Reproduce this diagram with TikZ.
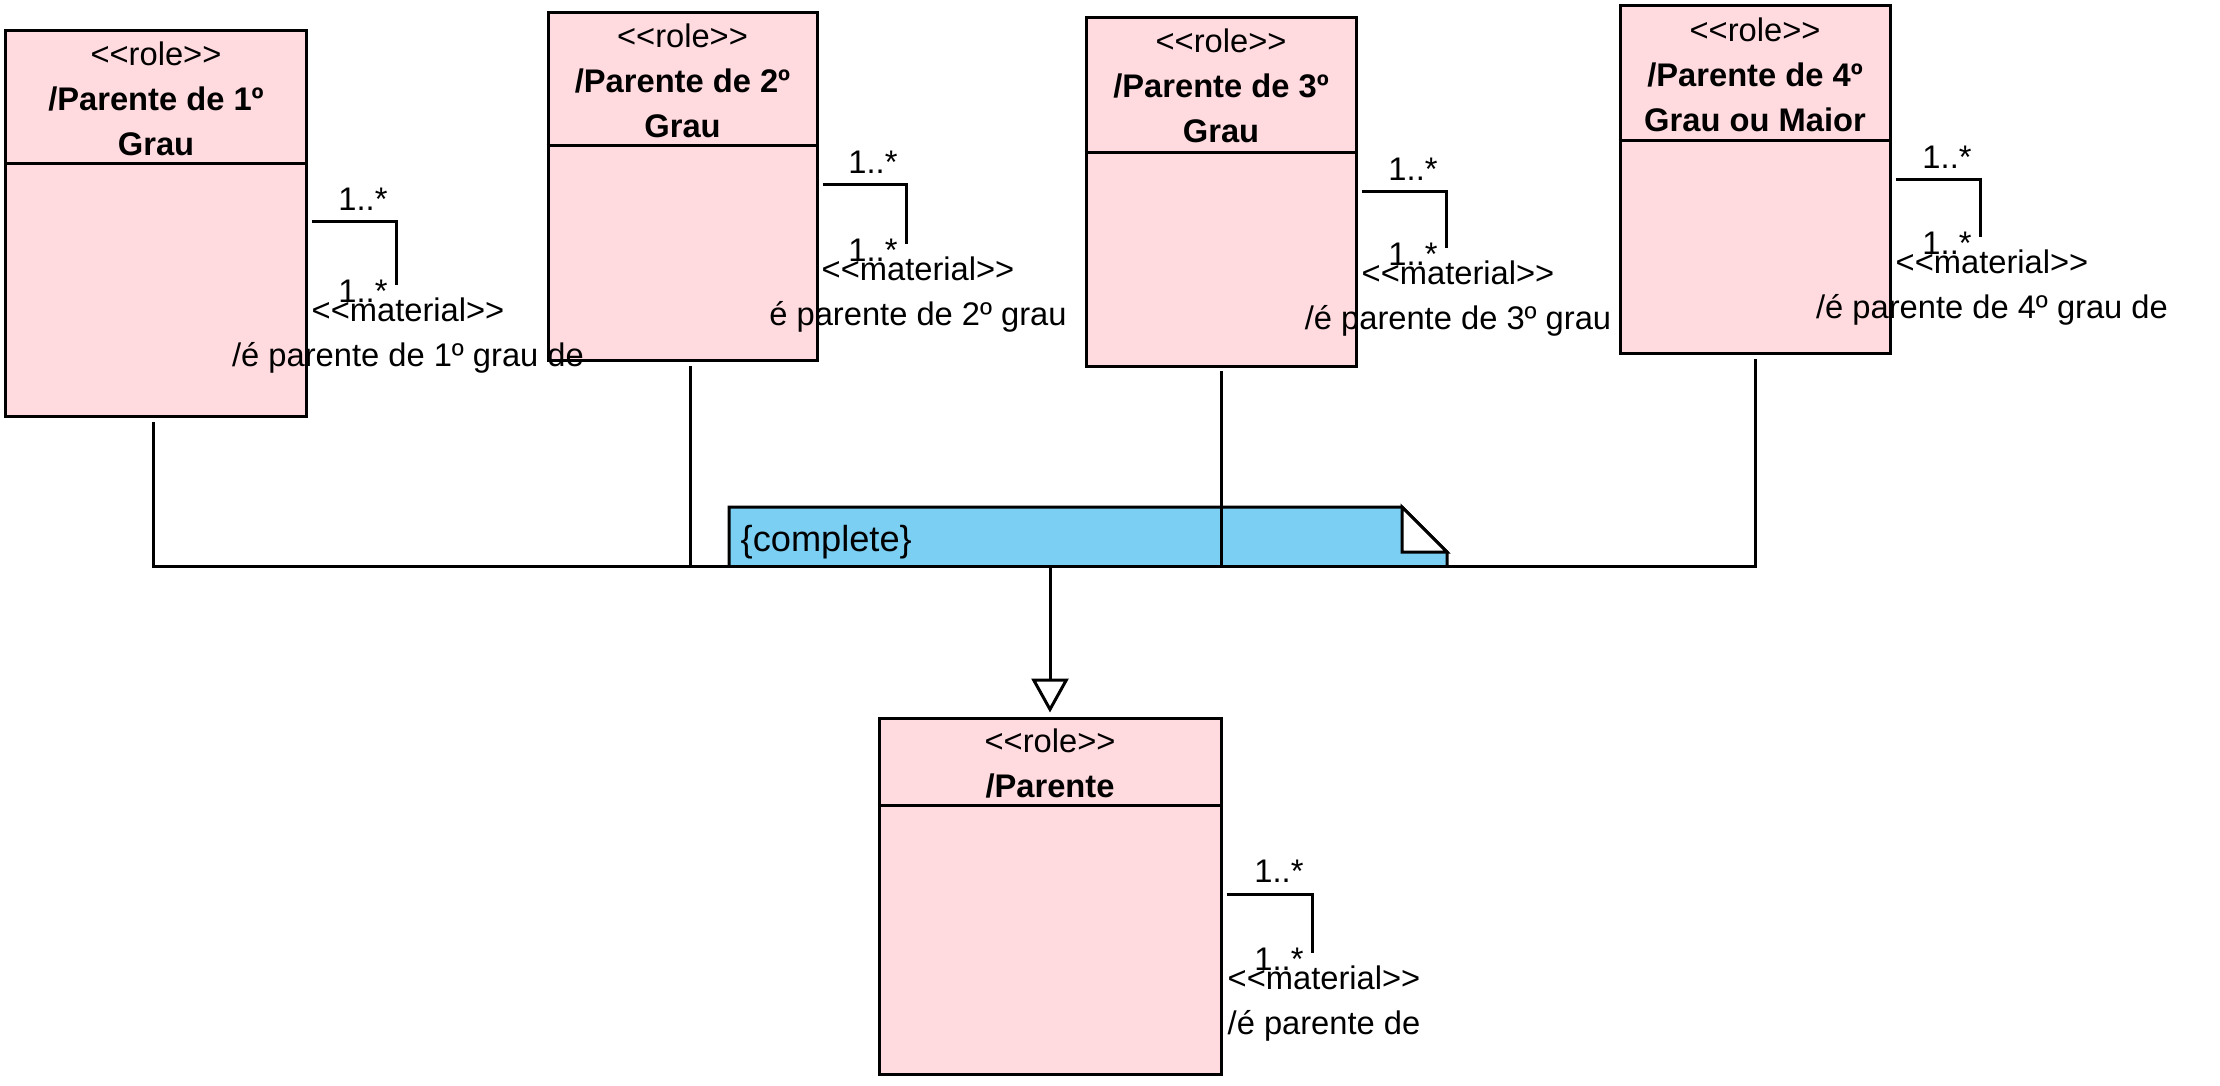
\documentclass[tikz,border=0pt]{standalone}
\usepackage{fontspec}
\setmainfont{Liberation Sans}[Ligatures=TeXOff]
\usetikzlibrary{arrows.meta}
\definecolor{rolefill}{RGB}{255,218,223}
\definecolor{notefill}{RGB}{122,207,243}
\tikzset{
  rolebox/.style={draw, fill=rolefill, line width=0.03cm, inner sep=0},
  hdr/.style={align=center, inner sep=0, font=\fontsize{9.3}{12.8}\selectfont},
  lbl/.style={inner sep=0, font=\fontsize{9.3}{11}\selectfont},
  assoc/.style={line width=0.03cm, shorten <=0.04cm},
  bus/.style={line width=0.03cm},
}
\begin{document}
\begin{tikzpicture}[x=1cm,y=-1cm]
\useasboundingbox (0,0) rectangle (22.20,10.86);

% nota {complete}
\fill[notefill] (7.29,5.07) -- (14.02,5.07) -- (14.47,5.52) -- (14.47,5.65) -- (7.29,5.65) -- cycle;
\draw[line width=0.03cm] (7.29,5.65) -- (7.29,5.07) -- (14.02,5.07) -- (14.47,5.52) -- (14.47,5.65);
\draw[line width=0.03cm, fill=white] (14.02,5.07) -- (14.02,5.52) -- (14.47,5.52) -- cycle;
\node[inner sep=0, anchor=west, font=\fontsize{10.3}{12}\selectfont] (cmpl) at (7.40,5.42) {\{complete\}};

% papeis
\node[rolebox, minimum width=3.00cm, minimum height=3.86cm] (g1) at (1.56,2.24) {};
\draw[line width=0.03cm] ([yshift=-1.34cm]g1.north west) -- ([yshift=-1.34cm]g1.north east);
\node[hdr] (g1t) at ([yshift=-0.69cm]g1.north) {<<role>>\\\textbf{/Parente de 1º}\\\textbf{Grau}};

\node[rolebox, minimum width=2.69cm, minimum height=3.48cm] (g2) at (6.825,1.87) {};
\draw[line width=0.03cm] ([yshift=-1.34cm]g2.north west) -- ([yshift=-1.34cm]g2.north east);
\node[hdr] (g2t) at ([yshift=-0.69cm]g2.north) {<<role>>\\\textbf{/Parente de 2º}\\\textbf{Grau}};

\node[rolebox, minimum width=2.70cm, minimum height=3.49cm] (g3) at (12.21,1.925) {};
\draw[line width=0.03cm] ([yshift=-1.36cm]g3.north west) -- ([yshift=-1.36cm]g3.north east);
\node[hdr] (g3t) at ([yshift=-0.69cm]g3.north) {<<role>>\\\textbf{/Parente de 3º}\\\textbf{Grau}};

\node[rolebox, minimum width=2.70cm, minimum height=3.48cm] (g4) at (17.55,1.80) {};
\draw[line width=0.03cm] ([yshift=-1.36cm]g4.north west) -- ([yshift=-1.36cm]g4.north east);
\node[hdr] (g4t) at ([yshift=-0.70cm]g4.north) {<<role>>\\\textbf{/Parente de 4º}\\\textbf{Grau ou Maior}};

\node[rolebox, minimum width=3.42cm, minimum height=3.56cm] (par) at (10.50,8.96) {};
\draw[line width=0.03cm] ([yshift=-0.89cm]par.north west) -- ([yshift=-0.89cm]par.north east);
\node[hdr] (part) at ([yshift=-0.47cm]par.north) {<<role>>\\\textbf{/Parente}};

% generalizacao
\coordinate (j1) at (1.53,5.66);
\coordinate (j2) at (6.90,5.66);
\coordinate (j4) at (17.55,5.66);
\coordinate (j0) at (10.50,5.66);
\draw[bus, shorten <=0.04cm, shorten >=0.04cm] (g1.south -| j1) -- (j1) -- (j4) -- (g4.south -| j4);
\draw[bus, shorten <=0.04cm] (g2.south -| j2) -- (j2);
\draw[bus, shorten <=0.03cm] (g3.south) -- (g3.south |- j1);
\draw[bus, -{Triangle[open, length=0.34cm, width=0.37cm]}, shorten >=0.04cm] (j0) -- (par.north);

% relacoes material
\coordinate (k1) at (3.96,2.22);
\coordinate (e1) at (3.96,2.85);
\draw[assoc] (g1.east |- k1) -- (k1) -- (e1);
\node[lbl] (g1m1) at ([shift={(-0.33,-0.23)}]k1) {1..*};
\node[lbl] (g1m2) at ([shift={(-0.33,0.06)}]e1) {1..*};
\node[lbl] (g1st) at ([shift={(0.12,0.25)}]e1) {<<material>>};
\node[lbl] (g1nm) at ([shift={(0.12,0.73)}]e1) {/é parente de 1º grau de};

\coordinate (k2) at (9.06,1.85);
\coordinate (e2) at (9.06,2.44);
\draw[assoc] (g2.east |- k2) -- (k2) -- (e2);
\node[lbl] (g2m1) at ([shift={(-0.33,-0.23)}]k2) {1..*};
\node[lbl] (g2m2) at ([shift={(-0.33,0.06)}]e2) {1..*};
\node[lbl] (g2st) at ([shift={(0.12,0.25)}]e2) {<<material>>};
\node[lbl] (g2nm) at ([shift={(0.12,0.73)}]e2) {é parente de 2º grau};

\coordinate (k3) at (14.46,1.92);
\coordinate (e3) at (14.46,2.48);
\draw[assoc] (g3.east |- k3) -- (k3) -- (e3);
\node[lbl] (g3m1) at ([shift={(-0.33,-0.23)}]k3) {1..*};
\node[lbl] (g3m2) at ([shift={(-0.33,0.06)}]e3) {1..*};
\node[lbl] (g3st) at ([shift={(0.12,0.25)}]e3) {<<material>>};
\node[lbl] (g3nm) at ([shift={(0.12,0.73)}]e3) {/é parente de 3º grau};

\coordinate (k4) at (19.80,1.80);
\coordinate (e4) at (19.80,2.37);
\draw[assoc] (g4.east |- k4) -- (k4) -- (e4);
\node[lbl] (g4m1) at ([shift={(-0.33,-0.23)}]k4) {1..*};
\node[lbl] (g4m2) at ([shift={(-0.33,0.06)}]e4) {1..*};
\node[lbl] (g4st) at ([shift={(0.12,0.25)}]e4) {<<material>>};
\node[lbl] (g4nm) at ([shift={(0.12,0.73)}]e4) {/é parente de 4º grau de};

\coordinate (k5) at (13.12,8.94);
\coordinate (e5) at (13.12,9.53);
\draw[assoc] (par.east |- k5) -- (k5) -- (e5);
\node[lbl] (pm1) at ([shift={(-0.33,-0.23)}]k5) {1..*};
\node[lbl] (pm2) at ([shift={(-0.33,0.06)}]e5) {1..*};
\node[lbl] (pst) at ([shift={(0.12,0.25)}]e5) {<<material>>};
\node[lbl] (pnm) at ([shift={(0.12,0.73)}]e5) {/é parente de};
\end{tikzpicture}
\end{document}
